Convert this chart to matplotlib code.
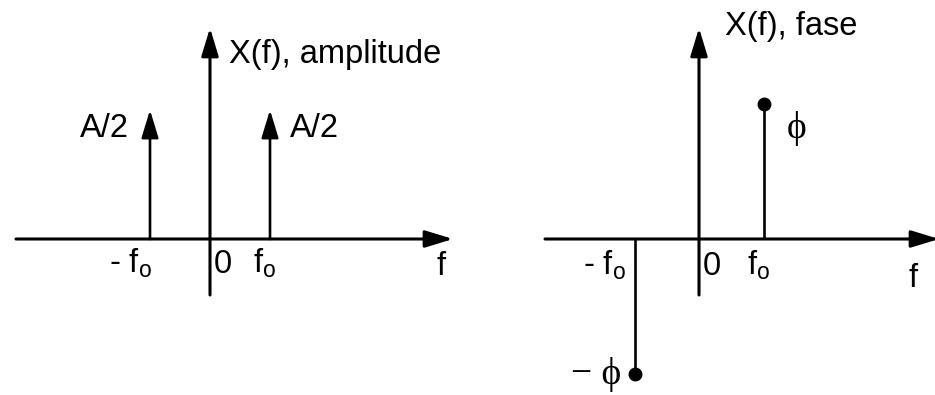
import numpy as np
import matplotlib
matplotlib.use("Agg")
import matplotlib.pyplot as plt

plt.rcParams['font.family'] = ['Liberation Sans', 'DejaVu Sans']

# espectro de un coseno A*cos(2*pi*f0*t + phi)
A = 2.0
phi = 1.0
frecuencias = [-1.0, 1.0]          # -f0, f0
amplitudes = [A / 2, A / 2]
fases = [-phi, phi]

etiquetas_f = ['- $\\mathregular{f_o}$', '$\\mathregular{f_o}$']
titulo_amp = 'X(f), amplitude'
titulo_fase = 'X(f), fase'

W, H = 935, 395
fig = plt.figure(figsize=(W / 100, H / 100), dpi=100)

FS = 23.5
LW_EJE = 2.2
LW_TALLO = 1.9


def flecha(ax, x0, y0, x1, y1, lw):
    ax.annotate('', xy=(x1, y1), xytext=(x0, y0),
                arrowprops=dict(arrowstyle='-|>,head_length=0.85,head_width=0.26',
                                mutation_scale=20, lw=lw, color='black',
                                shrinkA=0, shrinkB=0),
                annotation_clip=False)


def texto(ax, s, xy, dx, dy, ha, va='baseline', **kw):
    ax.annotate(s, xy, xytext=(dx, dy), textcoords='offset pixels',
                ha=ha, va=va, fontsize=kw.pop('fontsize', FS),
                annotation_clip=False, **kw)


def panel(x_px, ancho_px, ox, oy, ux, uy, x_ini, x_fin, y_ini, y_fin):
    # ejes en pixeles: origen (ox, oy), ux/uy pixeles por unidad
    ax = fig.add_axes([x_px / W, 0, ancho_px / W, 1])
    ax.set_xlim((x_px - ox) / ux, (x_px + ancho_px - ox) / ux)
    ax.set_ylim(-(H - oy) / uy, oy / uy)
    ax.axis('off')
    xa, xb = (x_ini - ox) / ux, (x_fin - ox) / ux
    ya, yb = -(y_ini - oy) / uy, (oy - y_fin) / uy
    flecha(ax, xa, 0, xb, 0, LW_EJE)
    flecha(ax, 0, ya, 0, yb, LW_EJE)
    return ax, xb, yb


def etiquetas_eje(ax, xb, dx_menos, dx_f, dy_f, dy):
    texto(ax, etiquetas_f[0], (frecuencias[0], 0), dx_menos, dy, 'right')
    texto(ax, etiquetas_f[1], (frecuencias[1], 0), -5, dy, 'center')
    texto(ax, '0', (0, 0), 4, dy, 'left')
    texto(ax, 'f', (xb, 0), dx_f, dy_f, 'center')


# amplitud
ax1, xb1, yb1 = panel(0, 467.5, 210, 239, 60, 129, 16, 453, 295, 28)
for f, a in zip(frecuencias, amplitudes):
    flecha(ax1, f, 0, f, a, LW_TALLO)
texto(ax1, 'A/2', (frecuencias[0], amplitudes[0]), -21, -27, 'right')
texto(ax1, 'A/2', (frecuencias[1], amplitudes[1]), 20, -27, 'left')
texto(ax1, titulo_amp, (0, yb1), 19, -35, 'left')
etiquetas_eje(ax1, xb1, 2, -12, -36, -34)

# fase
ax2, xb2, yb2 = panel(467.5, 467.5, 699, 239, 64.5, 135, 545, 939, 295, 28)
ax2.vlines(frecuencias, 0, fases, color='black', lw=LW_TALLO)
ax2.plot(frecuencias, fases, 'o', color='black', ms=9, clip_on=False)
texto(ax2, titulo_fase, (0, yb2), 26, -7, 'left')
texto(ax2, '\u03d5', (frecuencias[1], fases[1]), 33, -24, 'center', 'center',
      fontsize=27, family=['Liberation Serif', 'DejaVu Serif'])
texto(ax2, '\u2212 \u03d5', (frecuencias[0], fases[0]), -13, 0, 'right', 'center',
      fontsize=27, family=['Liberation Serif', 'DejaVu Serif'])
etiquetas_eje(ax2, xb2, -8, -26, -48, -36)

fig.savefig('out.png', dpi=100)
